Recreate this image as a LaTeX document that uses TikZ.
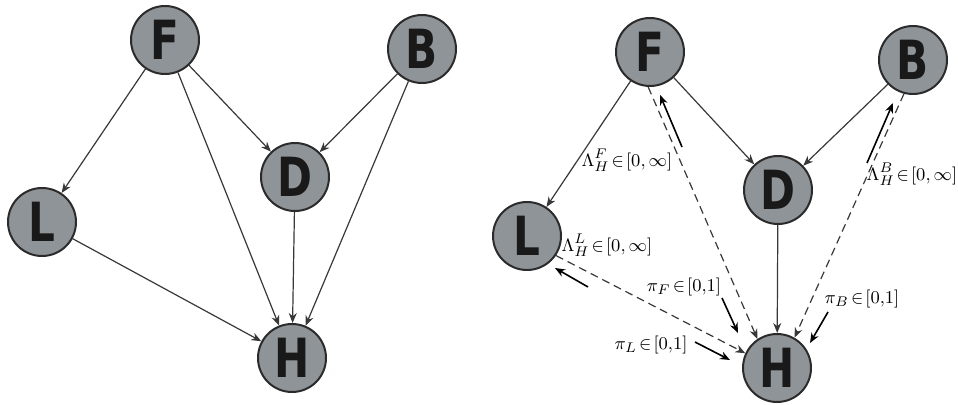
\documentclass[tikz,border=0pt]{standalone}
\usepackage{fontspec}
\usepackage{amsmath}
\usetikzlibrary{arrows.meta,calc}
\newfontfamily\letterfont{DejaVu Sans}[FakeStretch=0.78]
\definecolor{bnline}{HTML}{2B2B2B}
\definecolor{bnfill}{HTML}{8F9498}
\definecolor{bnedge}{HTML}{383838}

\begin{document}
\begin{tikzpicture}[
  x=0.5pt, y=-0.5pt,
  var/.style={circle, draw=bnline, line width=1pt, fill=bnfill, minimum size=34pt,
              inner sep=0pt, text=black!90,
              font=\letterfont\bfseries\fontsize{27}{27}\selectfont},
  arr/.style={-{Stealth[length=5pt,width=4pt]}, line width=0.6pt, draw=bnedge},
  darr/.style={arr, dash pattern=on 4pt off 2.5pt},
  flow/.style={-{Stealth[length=5pt,width=4pt]}, line width=0.8pt, draw=black},
  lbl/.style={font=\fontsize{9.5}{11}\selectfont, inner sep=0pt},
]
  \useasboundingbox (0,0) rectangle (958,405);

  % left network
  \node[var] (F) at (165,40)  {F};
  \node[var] (B) at (422,49)  {B};
  \node[var] (D) at (295,177) {D};
  \node[var] (L) at (42,222)  {L};
  \node[var] (H) at (292,358) {H};

  \draw[arr] (F) -- (L);
  \draw[arr] (F) -- (H);
  \draw[arr] (F) -- (D);
  \draw[arr] (B) -- (D);
  \draw[arr] (B) -- (H);
  \draw[arr] (D) -- (H);
  \draw[arr] (L) -- (H);

  % right network with feedback
  \node[var] (Fr) at (650,52)  {F};
  \node[var] (Br) at (913,60)  {B};
  \node[var] (Dr) at (778,190) {D};
  \node[var] (Lr) at (527,236) {L};
  \node[var] (Hr) at (777,368) {H};

  \draw[arr] (Fr) -- (Lr);
  \draw[arr] (Fr) -- (Dr);
  \draw[arr] (Br) -- (Dr);
  \draw[arr] (Dr) -- (Hr);
  \draw[darr] (Fr.-93)  -- (Hr.124);
  \draw[darr] (Br.-105) -- (Hr.60);
  \draw[darr] (Lr.-34)  -- (Hr.155);

  \coordinate (fb1) at (682,147); \coordinate (fb2) at (660,95);
  \coordinate (fh1) at (722,298); \coordinate (fh2) at (738,333);
  \coordinate (bb1) at (867,163); \coordinate (bb2) at (893,103);
  \coordinate (bh1) at (828,312); \coordinate (bh2) at (810,343);
  \coordinate (lb1) at (588,287); \coordinate (lb2) at (555,268);
  \coordinate (lh1) at (695,342); \coordinate (lh2) at (730,360);
  \draw[flow] (fb1) -- (fb2);
  \draw[flow] (fh1) -- (fh2);
  \draw[flow] (bb1) -- (bb2);
  \draw[flow] (bh1) -- (bh2);
  \draw[flow] (lb1) -- (lb2);
  \draw[flow] (lh1) -- (lh2);

  \node[lbl] (lamF) at (627,160) {$\Lambda_H^F\!\in\![0{,}\,\infty]$};
  \node[lbl] (lamL) at (607,245) {$\Lambda_H^L\!\in\![0{,}\,\infty]$};
  \node[lbl] (lamB) at (912,174) {$\Lambda_H^B\!\in\![0{,}\,\infty]$};
  \node[lbl] (piF)  at (684,287) {$\pi_F\!\in\![0{,}1]$};
  \node[lbl] (piB)  at (862,299) {$\pi_B\!\in\![0{,}1]$};
  \node[lbl] (piL)  at (651,345) {$\pi_L\!\in\![0{,}1]$};
\end{tikzpicture}
\end{document}
